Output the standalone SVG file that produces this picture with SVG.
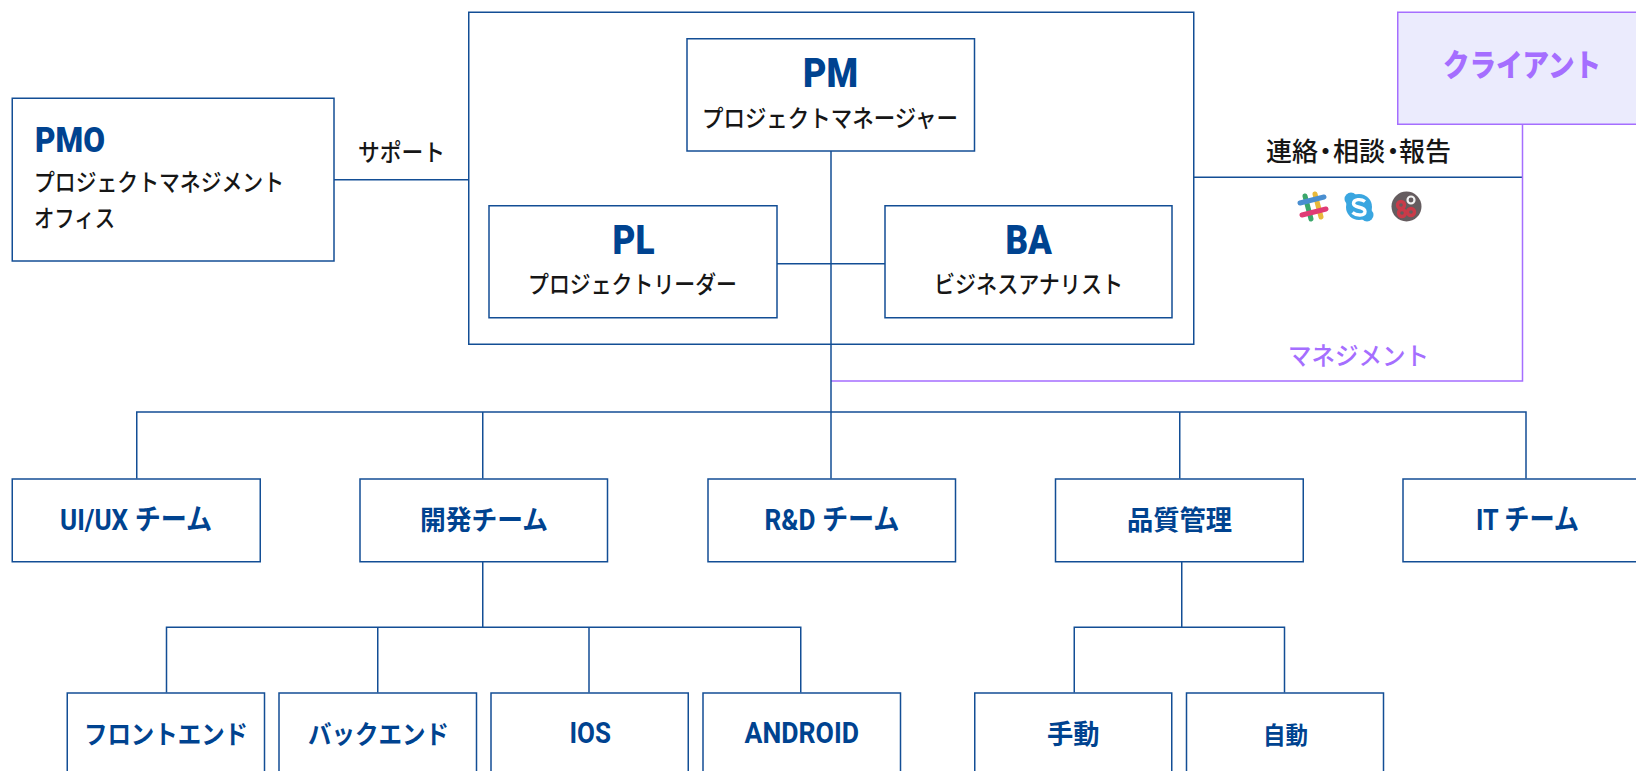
<svg xmlns="http://www.w3.org/2000/svg" width="1636" height="771" viewBox="0 0 1636 771">
<defs><filter id="soft" x="-10%" y="-10%" width="120%" height="120%"><feGaussianBlur stdDeviation="0.6"/></filter></defs>
<style>
text{font-family:"Noto Sans CJK JP","Noto Sans",sans-serif}
.box{fill:#fff;stroke:#134e95;stroke-width:1.5}
.ln{fill:none;stroke:#134e95;stroke-width:1.5}
.pl{fill:none;stroke:#a56eff;stroke-width:1.5}
.big{font-family:Roboto,"Noto Sans",sans-serif;font-weight:900;font-size:41px;fill:#004390}
.sub{font-size:24px;font-weight:500;fill:#161616}
.t{font-weight:700;font-size:27px;fill:#004390}
.l{font-family:Roboto,"Noto Sans CJK JP",sans-serif;font-weight:700;font-size:29px;fill:#004390}
</style>
<rect width="1636" height="771" fill="#fff"/>
<g id="group-core"><rect class="box" x="468.75" y="12.25" width="725" height="332"/></g>
<g id="connectors">
<path class="ln" d="M334 179.75H468.75"/>
<path class="ln" d="M1193.75 177.25H1522.5"/>
<path class="pl" d="M1522.5 124V381H831"/>
<path class="ln" d="M777 263.75H885"/>
<path class="ln" d="M831 151V478.5"/>
<path class="ln" d="M136.75 478.5V412H1526V478.5"/>
<path class="ln" d="M482.75 412V478.5M1179.75 412V478.5"/>
<path class="ln" d="M482.75 561.75V627.25"/>
<path class="ln" d="M166.5 692.5V627.25H800.75V692.5"/>
<path class="ln" d="M377.75 627.25V692.5M589 627.25V692.5"/>
<path class="ln" d="M1181.75 561.75V627.25"/>
<path class="ln" d="M1074.25 692.5V627.25H1284.5V692.5"/>
</g>
<g id="pmo"><rect class="box" x="12.25" y="98.25" width="321.75" height="162.75"/>
<text class="big" x="35" y="151.5" style="font-size:35px" textLength="70" lengthAdjust="spacingAndGlyphs">PMO</text>
<text class="sub" x="34" y="191" textLength="250" lengthAdjust="spacingAndGlyphs">プロジェクトマネジメント</text>
<text class="sub" x="34" y="227" textLength="81" lengthAdjust="spacingAndGlyphs">オフィス</text></g>
<g id="pm"><rect class="box" x="687" y="38.75" width="287.5" height="112.25"/>
<text class="big" x="803" y="87" textLength="55" lengthAdjust="spacingAndGlyphs">PM</text>
<text class="sub" x="702" y="127" textLength="256" lengthAdjust="spacingAndGlyphs">プロジェクトマネージャー</text></g>
<g id="pl"><rect class="box" x="489" y="205.75" width="288" height="112"/>
<text class="big" x="612.5" y="253.5" textLength="42" lengthAdjust="spacingAndGlyphs">PL</text>
<text class="sub" x="528" y="293" textLength="209" lengthAdjust="spacingAndGlyphs">プロジェクトリーダー</text></g>
<g id="ba"><rect class="box" x="885" y="205.75" width="287" height="112"/>
<text class="big" x="1005.5" y="253.5" textLength="46.5" lengthAdjust="spacingAndGlyphs">BA</text>
<text class="sub" x="934" y="293" textLength="189" lengthAdjust="spacingAndGlyphs">ビジネスアナリスト</text></g>
<g id="client"><rect x="1397.75" y="12.25" width="250" height="112" fill="#ebebfd" stroke="#a56eff" stroke-width="1.5"/>
<text x="1443" y="75.5" font-size="31" font-weight="900" fill="#a56eff" textLength="158" lengthAdjust="spacingAndGlyphs">クライアント</text></g>
<g id="label-support"><text class="sub" x="358" y="161" textLength="87" lengthAdjust="spacingAndGlyphs">サポート</text></g>
<g id="label-contact"><text class="sub" x="1266 1292 1312.5 1333 1359 1380 1399 1425" y="161" style="font-size:26px">連絡・相談・報告</text></g>
<g id="label-management"><text x="1288" y="365" font-size="25" font-weight="500" fill="#a56eff" textLength="141" lengthAdjust="spacingAndGlyphs">マネジメント</text></g>
<g id="icon-slack" filter="url(#soft)" stroke-width="5" stroke-linecap="round" fill="none">
<path d="M1305 196L1311 219" stroke="#3aa76b"/>
<path d="M1315 194L1321 217" stroke="#e8b93a"/>
<path d="M1300 203L1324 197" stroke="#4a8ed0"/>
<path d="M1302 215L1326 209" stroke="#e03a74"/>
</g>
<g id="icon-skype"><circle cx="1359" cy="207" r="13" fill="#3aa6e0"/><circle cx="1351" cy="199" r="6.5" fill="#3aa6e0"/><circle cx="1367" cy="215" r="6.5" fill="#3aa6e0"/>
<path d="M1365 201.5C1361 198.5 1353.5 199 1353.5 203.5C1353.5 208.5 1365 206 1365 211.5C1365 216 1356.5 216 1352.5 212.5" fill="none" stroke="#fff" stroke-width="3.4"/></g>
<g id="icon-other" filter="url(#soft)"><circle cx="1406.5" cy="206.5" r="15" fill="#655c5e"/>
<g fill="none" stroke="#c93a48" stroke-width="3.4"><circle cx="1401" cy="205" r="3.5"/><circle cx="1402" cy="213" r="3.5"/><circle cx="1411" cy="212" r="3.5"/></g>
<circle cx="1411" cy="200" r="3.5" fill="none" stroke="#f2f2f2" stroke-width="2.2"/></g>
<g id="team-uiux"><rect class="box" x="12.25" y="479" width="248" height="82.75"/><text class="l" x="60" y="530" textLength="152" lengthAdjust="spacingAndGlyphs">UI/UX チーム</text></g>
<g id="team-dev"><rect class="box" x="360" y="479" width="247.5" height="82.75"/><text class="t" x="420" y="530" textLength="128" lengthAdjust="spacingAndGlyphs">開発チーム</text></g>
<g id="team-rd"><rect class="box" x="708" y="479" width="247.5" height="82.75"/><text class="l" x="764.5" y="530" textLength="135" lengthAdjust="spacingAndGlyphs">R&amp;D チーム</text></g>
<g id="team-qa"><rect class="box" x="1055.5" y="479" width="247.75" height="82.75"/><text class="t" x="1127" y="530" textLength="105" lengthAdjust="spacingAndGlyphs">品質管理</text></g>
<g id="team-it"><rect class="box" x="1403" y="479" width="248" height="82.75"/><text class="l" x="1476" y="530" textLength="103" lengthAdjust="spacingAndGlyphs">IT チーム</text></g>
<g id="dev-front"><rect class="box" x="67.25" y="693" width="197.25" height="100"/><text class="t" x="84" y="744" style="font-size:26px" textLength="164" lengthAdjust="spacingAndGlyphs">フロントエンド</text></g>
<g id="dev-back"><rect class="box" x="279" y="693" width="197.5" height="100"/><text class="t" x="308" y="744" style="font-size:26px" textLength="141" lengthAdjust="spacingAndGlyphs">バックエンド</text></g>
<g id="dev-ios"><rect class="box" x="491" y="693" width="197.25" height="100"/><text class="l" x="569.5" y="743" textLength="41.5" lengthAdjust="spacingAndGlyphs">IOS</text></g>
<g id="dev-android"><rect class="box" x="703" y="693" width="197.5" height="100"/><text class="l" x="744.5" y="743" textLength="114.5" lengthAdjust="spacingAndGlyphs">ANDROID</text></g>
<g id="qa-manual"><rect class="box" x="974.75" y="693" width="197" height="100"/><text class="t" x="1047" y="744" textLength="52.5" lengthAdjust="spacingAndGlyphs">手動</text></g>
<g id="qa-auto"><rect class="box" x="1186.5" y="693" width="197" height="100"/><text class="t" x="1263" y="744" style="font-size:24px" textLength="45" lengthAdjust="spacingAndGlyphs">自動</text></g>
</svg>
